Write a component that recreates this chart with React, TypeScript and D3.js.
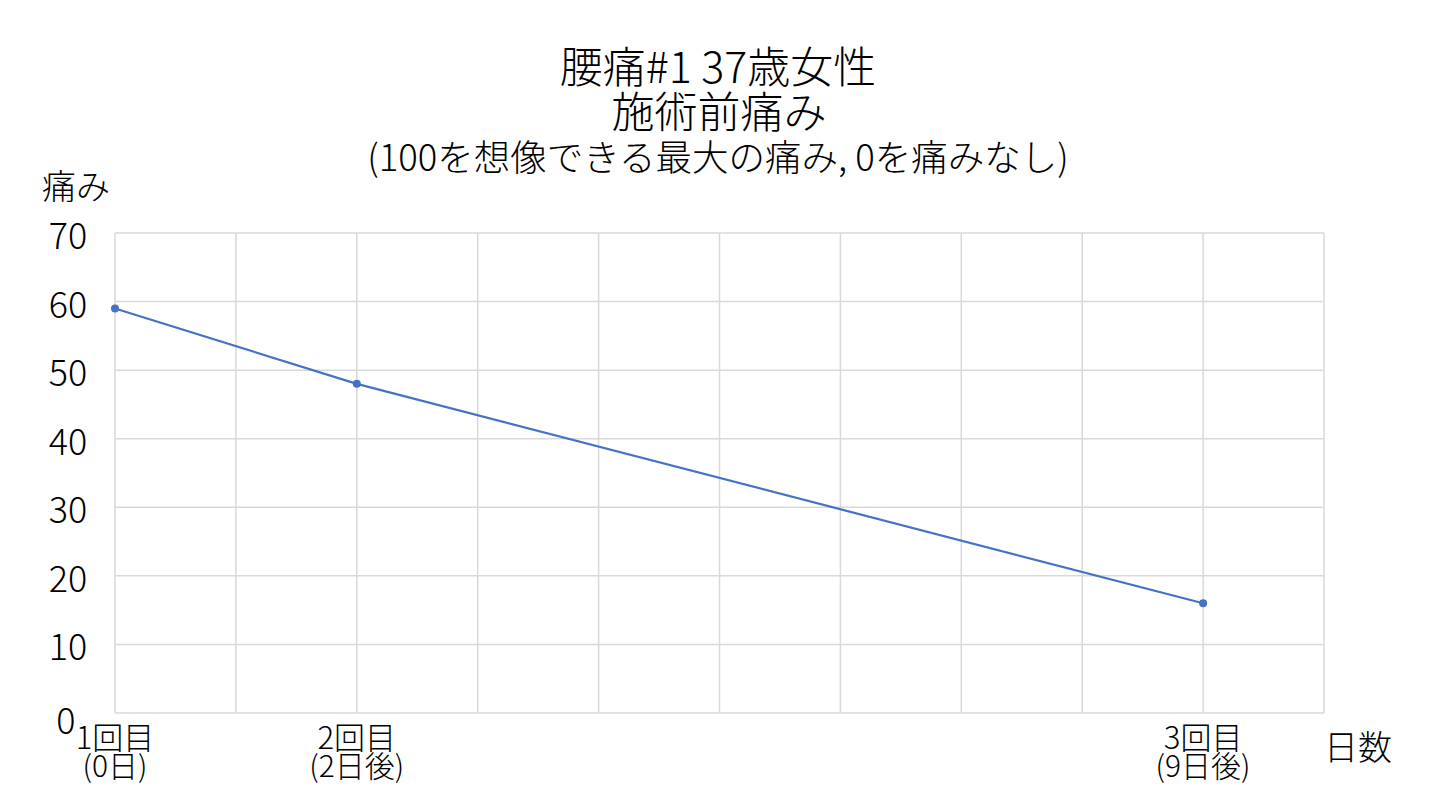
import React from "react";
import * as d3 from "d3";

const days = [0, 2, 9];
const painValues = [59, 48, 16];
const visitLabels = ["1回目", "2回目", "3回目"];
const dayLabels = ["(0日)", "(2日後)", "(9日後)"];
const yTicks = [0, 10, 20, 30, 40, 50, 60, 70];
const xGridDays = [0, 1, 2, 3, 4, 5, 6, 7, 8, 9, 10];
const titleLines = ["腰痛#1 37歳女性", "施術前痛み"];
const subtitle = "(100を想像できる最大の痛み, 0を痛みなし)";
const yAxisTitle = "痛み";
const xAxisTitle = "日数";

const W = 1440;
const H = 810;
const FONT = "'Noto Sans CJK JP', 'Noto Sans', sans-serif";

export default function App() {
  const x = d3.scaleLinear().domain([0, 10]).range([115, 1324]);
  const y = d3.scaleLinear().domain([0, 70]).range([713, 233]);
  const line = d3
    .line<number>()
    .x((_, i) => x(days[i]))
    .y((d) => y(d));
  const color = "#4472c4";
  const grid = "#d9d9d9";

  return (
    <svg
      width={W}
      height={H}
      style={{ position: "absolute", left: 0, top: 0, background: "#fff" }}
      fontFamily={FONT}
      fontWeight={300}
    >
      <rect x={0} y={0} width={W} height={H} fill="#fff" />
      {/* titles */}
      <text x={718} y={83} textAnchor="middle" fontSize={43} fill="#000">
        {titleLines[0]}
      </text>
      <text x={719} y={128} textAnchor="middle" fontSize={43} fill="#000">
        {titleLines[1]}
      </text>
      <text x={718} y={171} textAnchor="middle" fontSize={36.5} fill="#000">
        {subtitle}
      </text>
      <text x={76} y={199} textAnchor="middle" fontSize={34} fill="#000">
        {yAxisTitle}
      </text>
      {/* grid */}
      {yTicks.map((t) => (
        <line key={"h" + t} x1={x(0)} x2={x(10)} y1={y(t)} y2={y(t)} stroke={grid} strokeWidth={1.5} />
      ))}
      {xGridDays.map((d) => (
        <line key={"v" + d} x1={x(d)} x2={x(d)} y1={y(0)} y2={y(70)} stroke={grid} strokeWidth={1.5} />
      ))}
      {/* y tick labels */}
      {yTicks.map((t) => (
        <text
          key={"yt" + t}
          x={t === 0 ? 66 : 68}
          y={y(t) + (t === 0 ? 5 : 0)}
          textAnchor="middle"
          dominantBaseline="central"
          fontSize={36}
          fill="#000"
        >
          {t}
        </text>
      ))}
      {/* x labels */}
      {days.map((d, i) => (
        <g key={"xl" + i}>
          <text x={x(d)} y={749} textAnchor="middle" fontSize={31} fill="#000">
            {visitLabels[i]}
          </text>
          <text x={x(d)} y={777} textAnchor="middle" fontSize={30} fill="#000">
            {dayLabels[i]}
          </text>
        </g>
      ))}
      <text x={1358} y={760} textAnchor="middle" fontSize={34} fill="#000">
        {xAxisTitle}
      </text>
      {/* line */}
      <path d={line(painValues) || ""} fill="none" stroke={color} strokeWidth={2.2} />
      {painValues.map((v, i) => (
        <circle key={"p" + i} cx={x(days[i])} cy={y(v)} r={4} fill={color} />
      ))}
    </svg>
  );
}
